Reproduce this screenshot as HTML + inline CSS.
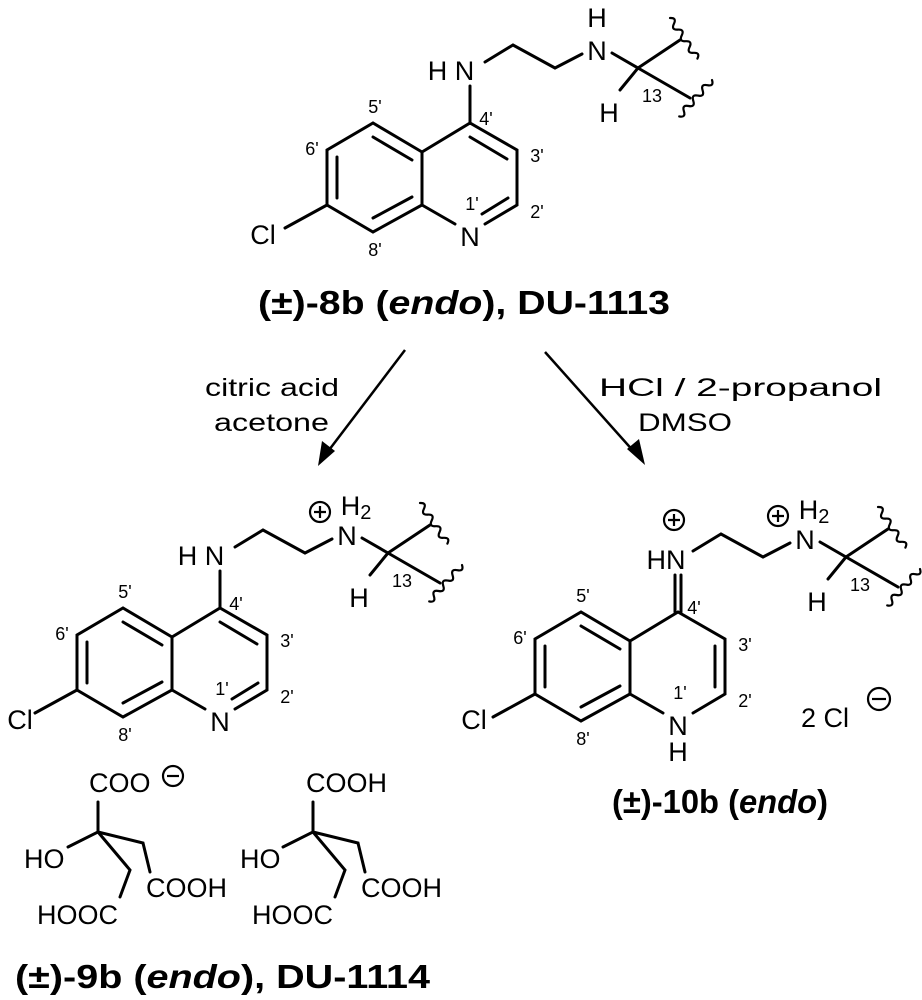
<!DOCTYPE html>
<html><head><meta charset="utf-8"><style>
html,body{margin:0;padding:0;background:#fff;}
svg{display:block;}
text{font-family:"Liberation Sans",Arial,sans-serif;fill:#000;}
.a{font-size:27px;}
.n{font-size:18px;}
.t{font-size:33px;font-weight:bold;}
.r{font-size:25px;}
</style></head><body>
<svg width="922" height="1000" viewBox="0 0 922 1000" xmlns="http://www.w3.org/2000/svg">
<defs>
<g id="wave"><path d="M0,0 q3.5,-6 7,0 t7,0 t7,0 t7,0 t7,0 t7,0 t7,0" fill="none" stroke="#000" stroke-width="2.2"/></g>
<g id="benz" stroke="#000" stroke-width="3" fill="none" stroke-linecap="round">
<path d="M422,152 L373,123 L327,150 L327,205 L373,232 L422,205 Z"/>
<path d="M412,160 L373,137 M337,157 L337,198 M373,218 L412,197"/>
<path d="M327,205 L285,228"/>
</g>
<g id="tail" stroke="#000" stroke-width="3" fill="none" stroke-linecap="round">
<path d="M485,62 L513,45 L555,68 L582,54"/>
<path d="M612,53 L638,68 L680,40 M638,68 L690,98 M638,68 L620,90"/>
<use href="#wave" transform="translate(670,18) rotate(56)"/>
<use href="#wave" transform="translate(712,80) rotate(132)"/>
</g>
<g id="pyr" stroke="#000" stroke-width="3" fill="none" stroke-linecap="round">
<path d="M422,152 L470,123 L517,150 L517,205 L485,224 M455,224 L422,205"/>
<path d="M470,137 L507,159 M482,214 L508,198"/>
<path d="M470,86 L470,123"/>
</g>
</defs>

<!-- top molecule -->
<use href="#benz"/>
<use href="#pyr"/>
<use href="#tail"/>
<text class="a" x="263" y="244" text-anchor="middle">Cl</text>
<text class="a" x="470" y="246" text-anchor="middle">N</text>
<text class="a" x="451" y="80" text-anchor="middle">H N</text>
<text class="a" x="597" y="60" text-anchor="middle">N</text>
<text class="a" x="597" y="27" text-anchor="middle">H</text>
<text class="a" x="609" y="122" text-anchor="middle">H</text>
<text class="n" x="652" y="102" text-anchor="middle">13</text>
<text class="n" x="375" y="113" text-anchor="middle">5'</text>
<text class="n" x="312" y="155" text-anchor="middle">6'</text>
<text class="n" x="486" y="125" text-anchor="middle">4'</text>
<text class="n" x="537" y="162" text-anchor="middle">3'</text>
<text class="n" x="537" y="218" text-anchor="middle">2'</text>
<text class="n" x="472" y="210" text-anchor="middle">1'</text>
<text class="n" x="375" y="256" text-anchor="middle">8'</text>
<text class="t" x="258" y="314" textLength="412" lengthAdjust="spacingAndGlyphs">(±)-8b (<tspan font-style="italic">endo</tspan>), DU-1113</text>

<!-- arrows -->
<g stroke="#000" stroke-width="2.5">
<line x1="405" y1="350" x2="326" y2="454"/>
<line x1="545" y1="352" x2="636" y2="454"/>
</g>
<path d="M318,466 L322,441 L335,451 Z" fill="#000"/>
<path d="M645,465 L627,449 L639,439 Z" fill="#000"/>
<text class="r" x="205" y="396" textLength="134" lengthAdjust="spacingAndGlyphs">citric acid</text>
<text class="r" x="214" y="431" textLength="115" lengthAdjust="spacingAndGlyphs">acetone</text>
<text class="r" x="599" y="396" textLength="283" lengthAdjust="spacingAndGlyphs">HCl / 2-propanol</text>
<text class="r" x="638" y="431" textLength="94" lengthAdjust="spacingAndGlyphs">DMSO</text>

<!-- left molecule -->
<g transform="translate(-250,485)">
<use href="#benz"/>
<use href="#pyr"/>
<use href="#tail"/>
<text class="a" x="270" y="244" text-anchor="middle">Cl</text>
<text class="a" x="470" y="246" text-anchor="middle">N</text>
<text class="a" x="451" y="80" text-anchor="middle">H N</text>
<text class="a" x="597" y="60" text-anchor="middle">N</text>
<text class="a" x="606" y="30" text-anchor="middle">H<tspan font-size="20" dy="4">2</tspan></text>
<circle cx="570" cy="27" r="10" fill="none" stroke="#000" stroke-width="2.2"/>
<path d="M564,27 H576 M570,21 V33" stroke="#000" stroke-width="2.2"/>
<text class="a" x="609" y="122" text-anchor="middle">H</text>
<text class="n" x="652" y="102" text-anchor="middle">13</text>
<text class="n" x="375" y="113" text-anchor="middle">5'</text>
<text class="n" x="312" y="155" text-anchor="middle">6'</text>
<text class="n" x="486" y="125" text-anchor="middle">4'</text>
<text class="n" x="537" y="162" text-anchor="middle">3'</text>
<text class="n" x="537" y="218" text-anchor="middle">2'</text>
<text class="n" x="472" y="210" text-anchor="middle">1'</text>
<text class="n" x="375" y="256" text-anchor="middle">8'</text>
</g>

<!-- right molecule -->
<g transform="translate(208,489)">
<use href="#benz"/>
<g stroke="#000" stroke-width="3" fill="none" stroke-linecap="round">
<path d="M422,152 L470,123 L517,150 L517,205 L485,224 M455,224 L422,205"/>
<path d="M507,157 L507,198"/>
<path d="M467,86 L467,123 M473,86 L473,123"/>
</g>
<use href="#tail"/>
<text class="a" x="266" y="240" text-anchor="middle">Cl</text>
<text class="a" x="470" y="246" text-anchor="middle">N</text>
<text class="a" x="470" y="272" text-anchor="middle">H</text>
<text class="a" x="458" y="80" text-anchor="middle">HN</text>
<circle cx="466" cy="31" r="10" fill="none" stroke="#000" stroke-width="2.2"/>
<path d="M460,31 H472 M466,25 V37" stroke="#000" stroke-width="2.2"/>
<text class="a" x="597" y="60" text-anchor="middle">N</text>
<text class="a" x="606" y="30" text-anchor="middle">H<tspan font-size="20" dy="4">2</tspan></text>
<circle cx="570" cy="27" r="10" fill="none" stroke="#000" stroke-width="2.2"/>
<path d="M564,27 H576 M570,21 V33" stroke="#000" stroke-width="2.2"/>
<text class="a" x="609" y="122" text-anchor="middle">H</text>
<text class="n" x="652" y="102" text-anchor="middle">13</text>
<text class="n" x="375" y="113" text-anchor="middle">5'</text>
<text class="n" x="312" y="155" text-anchor="middle">6'</text>
<text class="n" x="486" y="125" text-anchor="middle">4'</text>
<text class="n" x="537" y="162" text-anchor="middle">3'</text>
<text class="n" x="537" y="218" text-anchor="middle">2'</text>
<text class="n" x="472" y="210" text-anchor="middle">1'</text>
<text class="n" x="375" y="256" text-anchor="middle">8'</text>
</g>
<text class="a" x="801" y="727">2 Cl</text>
<circle cx="879" cy="699" r="11" fill="none" stroke="#000" stroke-width="2.2"/>
<path d="M872,699 H886" stroke="#000" stroke-width="2.2"/>
<text class="t" x="612" y="813" textLength="216" lengthAdjust="spacingAndGlyphs">(±)-10b (<tspan font-style="italic">endo</tspan>)</text>

<!-- citrates -->
<g stroke="#000" stroke-width="3" fill="none" stroke-linecap="round">
<path d="M98,802 L98,832 L68,847 M98,832 L143,843 L150,872 M98,832 L130,870 L120,897"/>
<path d="M313,802 L313,832 L283,847 M313,832 L358,843 L365,872 M313,832 L345,870 L335,897"/>
</g>
<text class="a" x="89" y="792">COO</text>
<circle cx="173" cy="776" r="10" fill="none" stroke="#000" stroke-width="2.2"/>
<path d="M167,776 H179" stroke="#000" stroke-width="2.2"/>
<text class="a" x="24" y="868">HO</text>
<text class="a" x="146" y="897">COOH</text>
<text class="a" x="37" y="924">HOOC</text>
<text class="a" x="306" y="792">COOH</text>
<text class="a" x="240" y="868">HO</text>
<text class="a" x="361" y="897">COOH</text>
<text class="a" x="252" y="924">HOOC</text>
<text class="t" x="15" y="988" textLength="415" lengthAdjust="spacingAndGlyphs">(±)-9b (<tspan font-style="italic">endo</tspan>), DU-1114</text>
</svg>
</body></html>
